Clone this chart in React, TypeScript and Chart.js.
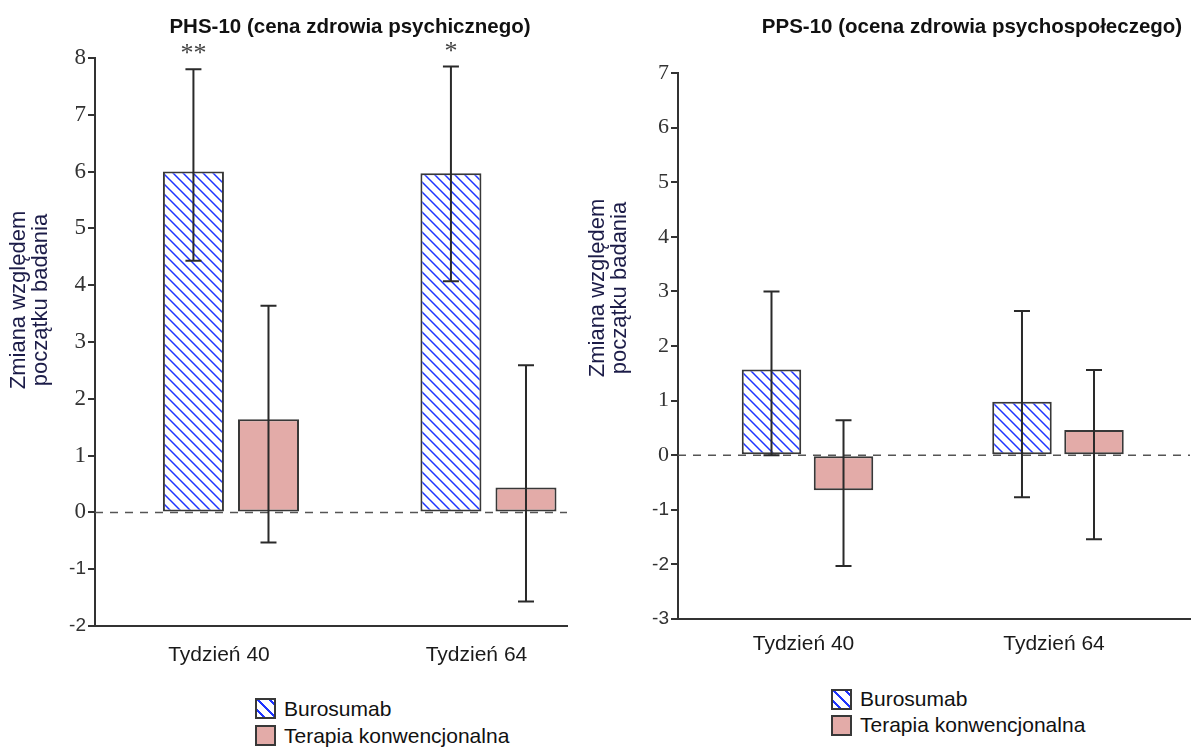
import React, { useEffect, useRef } from 'react';
import { Chart, registerables } from 'chart.js';

Chart.register(...registerables);

// ---------- data ----------
const categories = ['Tydzień 40', 'Tydzień 64'];
const seriesNames = ['Burosumab', 'Terapia konwencjonalna'];

const phsTitle = 'PHS-10 (cena zdrowia psychicznego)';
const phsBurosumab = [6.0, 5.97];
const phsBurosumabLow = [4.43, 4.07];
const phsBurosumabHigh = [7.8, 7.85];
const phsConventional = [1.64, 0.44];
const phsConventionalLow = [-0.53, -1.57];
const phsConventionalHigh = [3.64, 2.59];
const phsStars = ['**', '*'];

const ppsTitle = 'PPS-10 (ocena zdrowia psychospołeczego)';
const ppsBurosumab = [1.57, 0.98];
const ppsBurosumabLow = [0.0, -0.77];
const ppsBurosumabHigh = [3.0, 2.64];
const ppsConventional = [-0.64, 0.46];
const ppsConventionalLow = [-2.03, -1.54];
const ppsConventionalHigh = [0.64, 1.56];
const ppsStars = ['', ''];

const yTitleLines = ['Zmiana względem', 'początku badania'];

const BLUE = '#1f35ff';
const PINK = '#e3aba8';
const EDGE = '#383838';

function makeHatch(): CanvasPattern | string {
  const c = document.createElement('canvas');
  c.width = 10;
  c.height = 10;
  const g = c.getContext('2d');
  if (!g) return '#fff';
  g.fillStyle = '#ffffff';
  g.fillRect(0, 0, 10, 10);
  g.strokeStyle = BLUE;
  g.lineWidth = 1.5;
  g.beginPath();
  g.moveTo(-2, -2);
  g.lineTo(12, 12);
  g.moveTo(-2, 8);
  g.lineTo(2, 12);
  g.moveTo(8, -2);
  g.lineTo(12, 2);
  g.stroke();
  const p = g.createPattern(c, 'repeat');
  return p || '#fff';
}

const extrasPlugin = {
  id: 'extras',
  beforeDatasetsDraw(chart: any) {
    const { ctx, chartArea } = chart;
    const y0 = chart.scales.y.getPixelForValue(0);
    ctx.save();
    ctx.strokeStyle = '#555';
    ctx.lineWidth = 1.5;
    ctx.setLineDash([8, 7]);
    ctx.beginPath();
    ctx.moveTo(chartArea.left, y0);
    ctx.lineTo(chartArea.right, y0);
    ctx.stroke();
    ctx.restore();
  },
  afterDatasetsDraw(chart: any, _a: any, opts: any) {
    const { ctx } = chart;
    const ys = chart.scales.y;
    ctx.save();
    ctx.strokeStyle = '#2a2a2a';
    ctx.lineWidth = 2;
    const cap = opts.cap || 8;
    opts.errors.forEach((err: any, di: number) => {
      const meta = chart.getDatasetMeta(di);
      meta.data.forEach((el: any, j: number) => {
        const x = el.x;
        const yl = ys.getPixelForValue(err.low[j]);
        const yh = ys.getPixelForValue(err.high[j]);
        ctx.beginPath();
        ctx.moveTo(x, yl);
        ctx.lineTo(x, yh);
        ctx.moveTo(x - cap, yl);
        ctx.lineTo(x + cap, yl);
        ctx.moveTo(x - cap, yh);
        ctx.lineTo(x + cap, yh);
        ctx.stroke();
      });
    });
    // significance stars
    const meta0 = chart.getDatasetMeta(0);
    ctx.fillStyle = '#444';
    ctx.font = '26px "Liberation Serif"';
    ctx.textAlign = 'center';
    ctx.textBaseline = 'alphabetic';
    opts.stars.forEach((s: string, j: number) => {
      if (!s) return;
      const el = meta0.data[j];
      const yh = ys.getPixelForValue(opts.errors[0].high[j]);
      ctx.fillText(s, el.x, yh - 8);
    });
    ctx.restore();
  },
  afterDraw(chart: any, _a: any, opts: any) {
    const { ctx } = chart;
    ctx.save();
    ctx.fillStyle = '#111';
    ctx.font = 'bold 20.5px "Liberation Sans"';
    ctx.textAlign = 'center';
    ctx.textBaseline = 'middle';
    ctx.fillText(opts.title, opts.titleX, opts.titleY);
    ctx.fillStyle = '#1c1c48';
    ctx.font = '22px "Liberation Sans"';
    opts.yTitle.forEach((line: string, i: number) => {
      ctx.save();
      ctx.translate(opts.yTitleX + i * 22, opts.yTitleY);
      ctx.rotate(-Math.PI / 2);
      ctx.fillText(line, 0, 0);
      ctx.restore();
    });
    ctx.restore();
  },
};

type Spec = {
  title: string;
  titleX: number;
  titleY: number;
  yTitleX: number;
  yTitleY: number;
  buro: number[];
  buroLow: number[];
  buroHigh: number[];
  conv: number[];
  convLow: number[];
  convHigh: number[];
  stars: string[];
  yMin: number;
  yMax: number;
  xMin: number;
  xMax: number;
  axisLeft: number;
  top: number;
  xHeight: number;
  padRight: number;
  catPct: number;
  barPct: number;
  serifSize: number;
  cap: number;
  labelPad: number;
  labelShift: number;
};

function buildConfig(spec: Spec, hatch: any): any {
  const common = {
    borderColor: EDGE,
    borderWidth: 2,
    borderSkipped: false,
    categoryPercentage: spec.catPct,
    barPercentage: spec.barPct,
  };
  return {
    type: 'bar',
    data: {
      datasets: [
        {
          label: seriesNames[0],
          data: spec.buro.map((v, i) => ({ x: i, y: v })),
          backgroundColor: hatch,
          ...common,
        },
        {
          label: seriesNames[1],
          data: spec.conv.map((v, i) => ({ x: i, y: v })),
          backgroundColor: PINK,
          ...common,
        },
      ],
    },
    options: {
      animation: false,
      responsive: false,
      maintainAspectRatio: false,
      layout: { padding: { top: spec.top, left: 0, right: spec.padRight, bottom: 0 } },
      plugins: {
        legend: { display: false },
        title: { display: false },
        tooltip: { enabled: false },
        extras: {
          title: spec.title,
          titleX: spec.titleX,
          titleY: spec.titleY,
          yTitle: yTitleLines,
          yTitleX: spec.yTitleX,
          yTitleY: spec.yTitleY,
          stars: spec.stars,
          cap: spec.cap,
          errors: [
            { low: spec.buroLow, high: spec.buroHigh },
            { low: spec.convLow, high: spec.convHigh },
          ],
        },
      },
      scales: {
        x: {
          type: 'linear',
          min: spec.xMin,
          max: spec.xMax,
          offset: false,
          grid: { display: false, drawTicks: false },
          border: { display: true, color: '#333', width: 2 },
          afterBuildTicks: (s: any) => {
            s.ticks = categories.map((_, i) => ({ value: i }));
          },
          afterFit: (s: any) => {
            s.height = spec.xHeight;
          },
          ticks: {
            callback: (v: any) => categories[v] ?? '',
            font: { family: 'Liberation Sans', size: 21 },
            color: '#1a1a1a',
            padding: spec.labelPad,
            labelOffset: spec.labelShift,
            maxRotation: 0,
            autoSkip: false,
          },
        },
        y: {
          min: spec.yMin,
          max: spec.yMax,
          grid: {
            display: true,
            drawOnChartArea: false,
            drawTicks: true,
            tickLength: 7,
            color: '#333',
            lineWidth: 2,
          },
          border: { display: true, color: '#333', width: 2 },
          afterFit: (s: any) => {
            s.width = spec.axisLeft;
          },
          ticks: {
            stepSize: 1,
            color: '#333',
            padding: 2,
            font: (ctx: any) =>
              ctx.tick && ctx.tick.value < 0
                ? { family: 'Liberation Sans', size: 19 }
                : { family: 'Liberation Serif', size: spec.serifSize },
          },
        },
      },
    },
    plugins: [extrasPlugin],
  };
}

const phsSpec: Spec = {
  title: phsTitle,
  titleX: 350,
  titleY: 27,
  yTitleX: 19,
  yTitleY: 300,
  buro: phsBurosumab,
  buroLow: phsBurosumabLow,
  buroHigh: phsBurosumabHigh,
  conv: phsConventional,
  convLow: phsConventionalLow,
  convHigh: phsConventionalHigh,
  stars: phsStars,
  yMin: -2,
  yMax: 8,
  xMin: -0.528,
  xMax: 1.305,
  axisLeft: 95,
  top: 58,
  xHeight: 54,
  padRight: 33,
  catPct: 0.583,
  barPct: 0.813,
  serifSize: 23,
  cap: 8,
  labelPad: 17,
  labelShift: -12,
};

const ppsSpec: Spec = {
  title: ppsTitle,
  titleX: 392,
  titleY: 27,
  yTitleX: 18,
  yTitleY: 288,
  buro: ppsBurosumab,
  buroLow: ppsBurosumabLow,
  buroHigh: ppsBurosumabHigh,
  conv: ppsConventional,
  convLow: ppsConventionalLow,
  convHigh: ppsConventionalHigh,
  stars: ppsStars,
  yMin: -3,
  yMax: 7,
  xMin: -0.517,
  xMax: 1.527,
  axisLeft: 98,
  top: 73,
  xHeight: 61,
  padRight: 5,
  catPct: 0.575,
  barPct: 0.826,
  serifSize: 22,
  cap: 8,
  labelPad: 13,
  labelShift: -4,
};

function ChartPanel({ spec, left, width, height }: { spec: Spec; left: number; width: number; height: number }) {
  const ref = useRef<HTMLCanvasElement | null>(null);
  useEffect(() => {
    if (!ref.current) return;
    const chart = new Chart(ref.current, buildConfig(spec, makeHatch()));
    return () => chart.destroy();
  }, [spec]);
  return (
    <canvas
      ref={ref}
      width={width}
      height={height}
      style={{ position: 'absolute', left, top: 0, width, height }}
    />
  );
}

const hatchCss =
  'repeating-linear-gradient(45deg, #ffffff 0px, #ffffff 4px, ' + BLUE + ' 4px, ' + BLUE + ' 6px, #ffffff 6px, #ffffff 8px)';

function Legend({ left, top, gap, size }: { left: number; top: number; gap: number; size: number }) {
  const fills = [hatchCss, PINK];
  return (
    <div style={{ position: 'absolute', left, top }}>
      {seriesNames.map((name, i) => (
        <div
          key={name}
          style={{
            display: 'flex',
            alignItems: 'center',
            height: gap,
            fontFamily: '"Liberation Sans", Arial, sans-serif',
            fontSize: 21,
            color: '#111',
          }}
        >
          <span
            style={{
              display: 'inline-block',
              boxSizing: 'border-box',
              width: size,
              height: size,
              border: '2px solid ' + EDGE,
              background: fills[i],
              marginRight: 8,
            }}
          />
          <span>{name}</span>
        </div>
      ))}
    </div>
  );
}

export default function App() {
  return (
    <div style={{ position: 'absolute', left: 0, top: 0, width: 1195, height: 747, background: '#fff', overflow: 'hidden' }}>
      <ChartPanel spec={phsSpec} left={0} width={600} height={680} />
      <ChartPanel spec={ppsSpec} left={580} width={615} height={680} />
      <Legend left={255} top={695} gap={27} size={21} />
      <Legend left={831} top={686} gap={26} size={21} />
    </div>
  );
}
